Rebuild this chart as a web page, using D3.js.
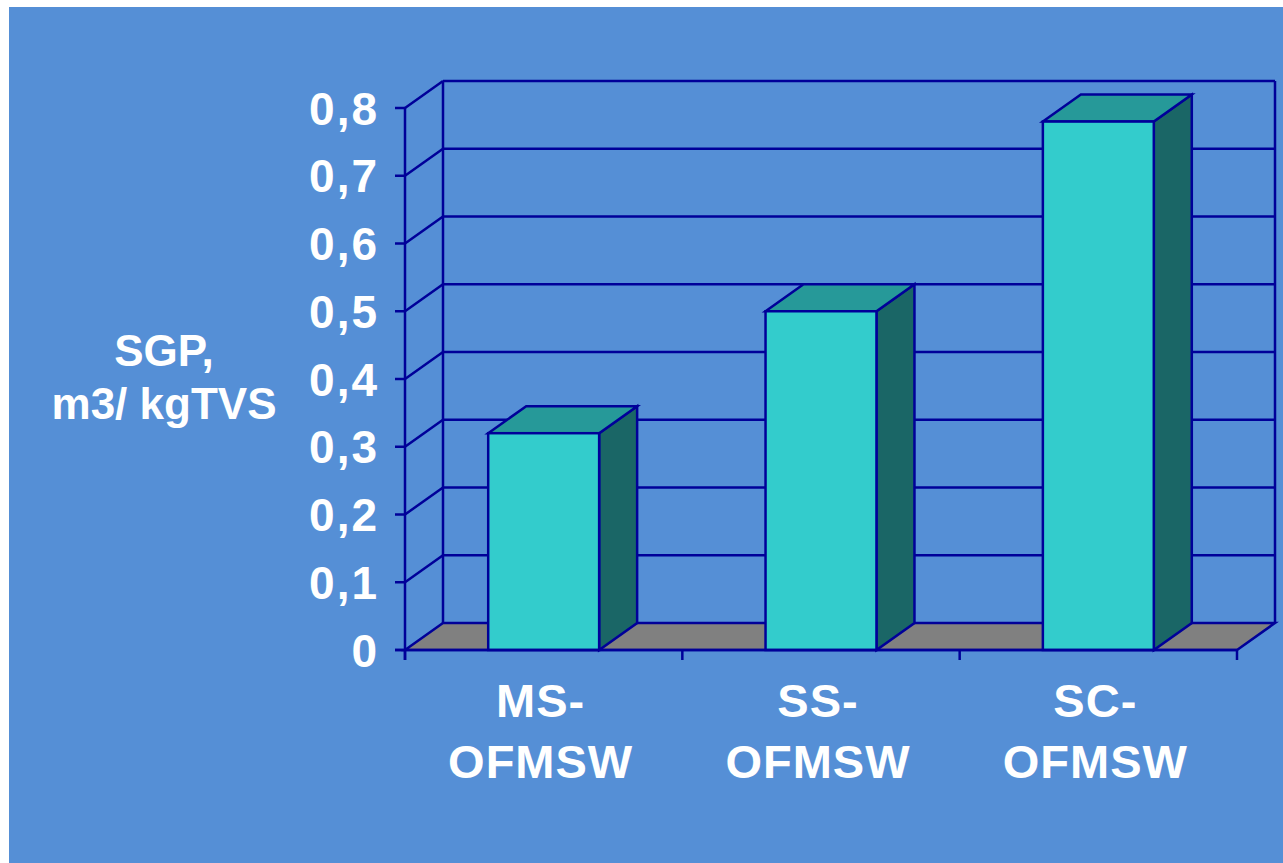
<!DOCTYPE html>
<html>
<head>
<meta charset="utf-8">
<script src="https://cdn.jsdelivr.net/npm/d3@7"></script>
<style>
  html, body { margin: 0; padding: 0; background: #ffffff; }
  svg { display: block; }
  text { font-family: "Liberation Sans", Arial, sans-serif; font-weight: bold; fill: #ffffff; }
</style>
</head>
<body>
<script>
// ---- data ----
const categories = ["MS-OFMSW", "SS-OFMSW", "SC-OFMSW"];
const categoryLines = [["MS-", "OFMSW"], ["SS-", "OFMSW"], ["SC-", "OFMSW"]];
const values = [0.32, 0.50, 0.78];
const yTicks = [0, 0.1, 0.2, 0.3, 0.4, 0.5, 0.6, 0.7, 0.8];
const yTickLabels = ["0", "0,1", "0,2", "0,3", "0,4", "0,5", "0,6", "0,7", "0,8"];
const yTitleLines = ["SGP,", "m3/ kgTVS"];

// ---- layout ----
const W = 1283, H = 863;
const DX = 38, DY = -27;
const lineColor = "#000099";
const bgColor = "#558FD6";

const svg = d3.select("body").append("svg").attr("width", W).attr("height", H);
svg.append("rect").attr("x", 9).attr("y", 7).attr("width", W - 9).attr("height", H - 7).attr("fill", bgColor);

const y = d3.scaleLinear().domain([0, 0.8]).range([650, 108]);
const x = d3.scaleBand().domain(categories).range([405, 1237]).paddingInner(0.6).paddingOuter(0.3);
const xStep = d3.scaleBand().domain(categories).range([405, 1237]).padding(0);

const x0 = 405, x1 = 1237;
const y0 = y(0), yTop = y(0.8);

// floor
const floor = [[x0, y0], [x1, y0], [x1 + DX, y0 + DY], [x0 + DX, y0 + DY]];
svg.append("path").attr("d", d3.line()(floor) + "Z")
  .attr("fill", "#808080").attr("stroke", lineColor).attr("stroke-width", 2.5).attr("stroke-linejoin", "miter");

const g = svg.append("g").attr("stroke", lineColor).attr("stroke-width", 2.5).attr("fill", "none");

// back wall gridlines
g.selectAll("line.grid").data(yTicks.filter(d => d > 0)).join("line")
  .attr("x1", x0 + DX).attr("x2", x1 + DX)
  .attr("y1", d => y(d) + DY).attr("y2", d => y(d) + DY);
// left wall diagonal lines
g.selectAll("line.diag").data(yTicks.filter(d => d > 0)).join("line")
  .attr("x1", x0).attr("x2", x0 + DX)
  .attr("y1", d => y(d)).attr("y2", d => y(d) + DY);
// back wall verticals
g.append("line").attr("x1", x0 + DX).attr("x2", x0 + DX).attr("y1", yTop + DY).attr("y2", y0 + DY);
g.append("line").attr("x1", x1 + DX).attr("x2", x1 + DX).attr("y1", yTop + DY).attr("y2", y0 + DY);

// bars
const bars = svg.append("g").attr("stroke", lineColor).attr("stroke-width", 2.5).attr("stroke-linejoin", "miter");
categories.forEach((c, i) => {
  const bx = x(c), bw = x.bandwidth(), by = y(values[i]);
  // side
  bars.append("path").attr("d", d3.line()([[bx + bw, by], [bx + bw + DX, by + DY], [bx + bw + DX, y0 + DY], [bx + bw, y0]]) + "Z")
    .attr("fill", "#1A6666");
  // top
  bars.append("path").attr("d", d3.line()([[bx, by], [bx + DX, by + DY], [bx + bw + DX, by + DY], [bx + bw, by]]) + "Z")
    .attr("fill", "#269999");
  // front
  bars.append("rect").attr("x", bx).attr("y", by).attr("width", bw).attr("height", y0 - by)
    .attr("fill", "#33CCCC");
});

// front axes
const ax = svg.append("g").attr("stroke", lineColor).attr("stroke-width", 2.5);
ax.append("line").attr("x1", x0).attr("x2", x0).attr("y1", yTop).attr("y2", y0 + 10);
ax.append("line").attr("x1", x0 - 10).attr("x2", x1).attr("y1", y0).attr("y2", y0);
ax.selectAll("line.yt").data(yTicks).join("line")
  .attr("x1", x0 - 10).attr("x2", x0).attr("y1", d => y(d)).attr("y2", d => y(d));
const bounds = categories.map(c => xStep(c)).concat([x1]);
ax.selectAll("line.xt").data(bounds).join("line")
  .attr("x1", d => d).attr("x2", d => d).attr("y1", y0).attr("y2", y0 + 10);

// y tick labels
svg.append("g").selectAll("text").data(yTicks).join("text")
  .attr("x", 379).attr("y", d => y(d)).attr("dy", "0.36em")
  .attr("text-anchor", "end").attr("font-size", 46).attr("letter-spacing", 2)
  .text((d, i) => yTickLabels[i]);

// x labels
categories.forEach((c, i) => {
  const cx = xStep(c) + xStep.bandwidth() / 2 - 3;
  categoryLines[i].forEach((t, j) => {
    svg.append("text").attr("x", cx).attr("y", 717 + j * 61)
      .attr("text-anchor", "middle").attr("font-size", 47).attr("letter-spacing", 1)
      .text(t);
  });
});

// y title
yTitleLines.forEach((t, j) => {
  svg.append("text").attr("x", 164).attr("y", 366 + j * 53)
    .attr("text-anchor", "middle").attr("font-size", 44)
    .text(t);
});
</script>
</body>
</html>
